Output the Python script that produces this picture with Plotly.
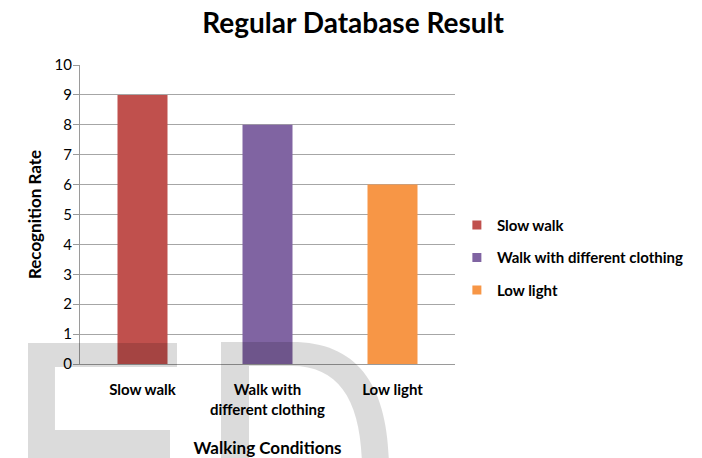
import plotly.graph_objects as go

# Recognition rate per walking condition
categories = ["Slow walk", "Walk with<br>different clothing", "Low light"]
series_names = ["Slow walk", "Walk with different clothing", "Low light"]
values = [9, 8, 6]
colors = ["#C0504D", "#8064A2", "#F79646"]
y_ticks = list(range(0, 11))

W, H = 702, 458
ML, MR, MT, MB = 80, 247, 65, 94
PW, PH = W - ML - MR, H - MT - MB

FONT = "Lato, Open Sans, sans-serif"

fig = go.Figure()
for i, (name, cat, val, col) in enumerate(zip(series_names, categories, values, colors)):
    fig.add_trace(go.Bar(
        x=[cat], y=[val], name=name, marker=dict(color=col, line=dict(width=0)),
        width=0.4, showlegend=False,
    ))
    # small square key for the legend
    fig.add_trace(go.Scatter(
        x=[None], y=[None], mode="markers", name=f"<b>{name}</b>",
        marker=dict(symbol="square", size=9, color=col), legendgroup=f"g{i}",
    ))


def px(x):
    return (x - ML) / PW


def py(y):
    return (H - MB - y) / PH


def path(points):
    return "M " + " L ".join(f"{px(x):.4f},{py(y):.4f}" for x, y in points) + " Z"


def curve_path(cmds):
    out = []
    for c in cmds:
        if c[0] in ("M", "L"):
            out.append(f"{c[0]} {px(c[1]):.4f},{py(c[2]):.4f}")
        elif c[0] == "C":
            out.append("C " + ", ".join(f"{px(c[k]):.4f},{py(c[k+1]):.4f}" for k in (1, 3, 5)))
        else:
            out.append("Z")
    return " ".join(out)


wm = "rgba(0,0,0,0.14)"
# Large background lettering "E" and "D"
e_path = path([(28, 470), (28, 343), (177, 343), (177, 367), (55, 367), (55, 430),
               (170, 430), (170, 470), (55, 470)])
d_outer = curve_path([("M", 221, 470), ("L", 221, 342), ("L", 292, 342),
                      ("C", 360, 342, 389, 388, 389, 470), ("Z",)])
d_inner = curve_path([("M", 249, 470), ("L", 249, 366), ("L", 292, 366),
                      ("C", 340, 366, 362, 402, 362, 470), ("Z",)])

shapes = [
    dict(type="path", xref="paper", yref="paper", path=e_path, fillcolor=wm,
         line=dict(width=0), layer="above"),
    dict(type="path", xref="paper", yref="paper", path=d_outer + " " + d_inner,
         fillcolor=wm, fillrule="evenodd", line=dict(width=0), layer="above"),
]

fig.update_layout(
    width=W, height=H,
    margin=dict(l=ML, r=MR, t=MT, b=MB),
    paper_bgcolor="white", plot_bgcolor="white",
    barmode="overlay",
    font=dict(family=FONT, size=15, color="#000000"),
    title=dict(text="<b>Regular Database Result</b>", x=0.503, xanchor="center",
               y=0.950, yanchor="middle", font=dict(size=28, family=FONT, color="#000000")),
    xaxis=dict(
        showgrid=False, showline=True, linecolor="#9A9A9A", linewidth=1,
        ticks="", tickfont=dict(size=15, family=FONT), ticklabelstandoff=12,
        tickprefix="<b>", ticksuffix="</b>", automargin=False,
        title=dict(text="<b>Walking Conditions</b>", font=dict(size=17, family=FONT), standoff=30),
        fixedrange=True,
    ),
    yaxis=dict(
        range=[0, 10], tickvals=y_ticks, showgrid=True, gridcolor="#A6A6A6", gridwidth=1,
        showline=True, linecolor="#9A9A9A", linewidth=1, zeroline=False,
        ticks="outside", ticklen=6, tickcolor="#9A9A9A", ticklabelstandoff=-2,
        tickfont=dict(size=15, family=FONT, color="#000000"), automargin=False,
        title=dict(text="<b>Recognition Rate</b>", font=dict(size=17, family=FONT), standoff=8),
    ),
    legend=dict(x=1.005, xanchor="left", xref="paper", y=0.355, yanchor="middle",
                font=dict(size=15, family=FONT), tracegroupgap=10,
                itemwidth=30, bgcolor="rgba(0,0,0,0)"),
    shapes=shapes,
)

fig.write_html("out.html")
